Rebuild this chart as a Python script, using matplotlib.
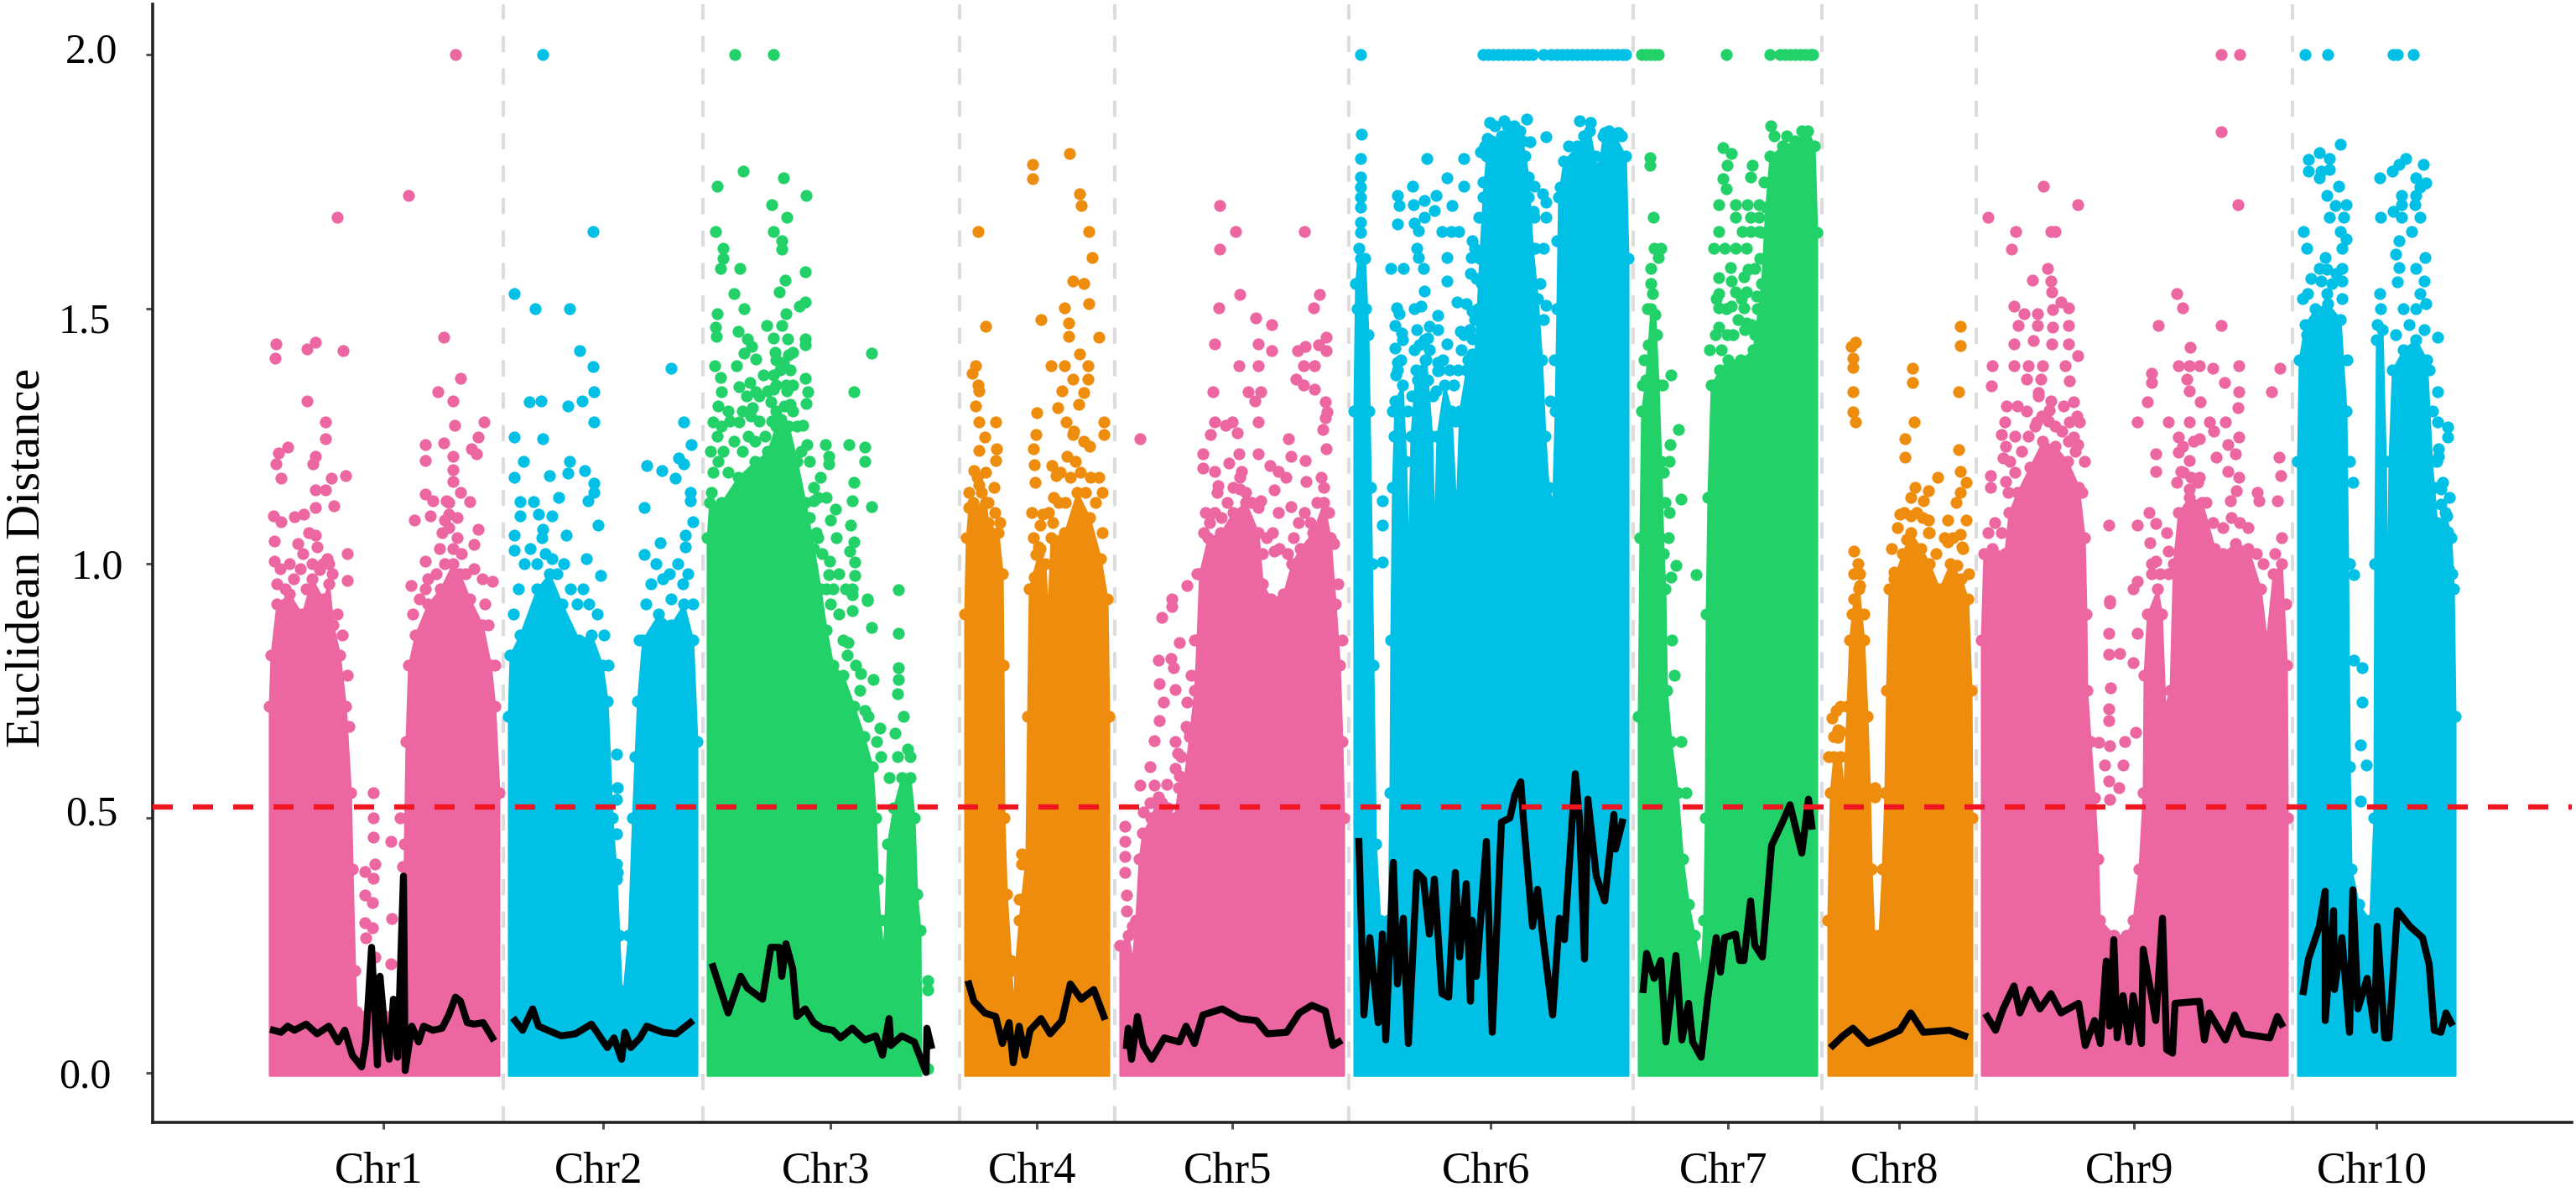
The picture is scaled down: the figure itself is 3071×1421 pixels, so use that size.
import matplotlib
matplotlib.use("Agg")
import matplotlib.pyplot as plt
from matplotlib.transforms import ScaledTranslation

plt.rcParams['font.family'] = ['Liberation Serif', 'DejaVu Serif']

pink = '#EC66A1'
blue = '#00C0E6'
green = '#22D168'
orange = '#EE8C0E'

chrom_names = ['Chr1', 'Chr2', 'Chr3', 'Chr4', 'Chr5', 'Chr6', 'Chr7', 'Chr8', 'Chr9', 'Chr10']
chrom_colors = [pink, blue, green, orange, pink, blue, green, orange, pink, blue]
chrom_ticks = [457, 719, 990, 1236, 1469, 1777, 2060, 2264, 2544, 2833]
chrom_borders = [600, 838, 1144, 1329, 1608, 1947, 2172, 2356, 2733]
threshold = 0.522

# top of the dense part of each chromosome (cumulative position, distance)
chr1_top = [(321,.72),(323,.82),(330,.92),(345,.94),(360,.90),(372,.97),(385,.93),(392,.96),(397,.88),(405,.82),(412,.72),(418,.55),(420,.40),(423,.2),(425,.12),(480,.12),(482,.45),(484,.65),(487,.8),(495,.86),(510,.92),(525,.95),(540,1.0),(548,.98),(560,.93),(575,.88),(585,.80),(590,.72),(595,.55),(595,0)]
chr2_top = [(606,.7),(608,.82),(620,.86),(640,.95),(655,.98),(670,.92),(690,.85),(705,.86),(718,.8),(724,.73),(730,.5),(735,.38),(738,.27),(741,.15),(743,.16),(749,.27),(754,.5),(757,.62),(760,.73),(766,.85),(785,.9),(800,.88),(815,.92),(826,.85),(831,.65),(831,0)]
chr3_top = [(843,1.05),(846,1.12),(860,1.12),(880,1.17),(900,1.2),(915,1.22),(925,1.27),(940,1.27),(950,1.2),(960,1.12),(970,1.03),(978,.95),(985,.87),(993,.8),(1005,.78),(1018,.72),(1030,.66),(1040,.6),(1044,.5),(1046,.38),(1049,.3),(1053,.24),(1055,.3),(1058,.45),(1065,.52),(1075,.58),(1085,.58),(1090,.5),(1093,.35),(1097,.28),(1098,0)]
chr4_top = [(1150,.9),(1152,1.05),(1155,1.11),(1175,1.12),(1178,1.08),(1190,1.06),(1195,.98),(1196,.8),(1197,.5),(1200,.35),(1205,.22),(1208,.12),(1210,.2),(1215,.3),(1223,.42),(1225,.7),(1227,.95),(1238,1.02),(1246,1.0),(1249,.9),(1253,1.05),(1269,1.06),(1284,1.14),(1299,1.09),(1312,1.01),(1320,.93),(1322,.7),(1322,0)]
chr5_top = [(1335,.25),(1345,.27),(1350,.22),(1354,.3),(1358,.42),(1362,.47),(1372,.5),(1378,.53),(1385,.53),(1392,.52),(1400,.5),(1405,.56),(1412,.58),(1418,.66),(1424,.75),(1427,.85),(1430,.98),(1440,1.05),(1455,1.06),(1470,1.1),(1485,1.12),(1500,1.06),(1505,.96),(1515,.93),(1530,.94),(1540,1.0),(1550,1.03),(1565,1.06),(1578,1.12),(1586,1.05),(1592,.92),(1597,.8),(1600,.65),(1602,.5),(1602,0)]
chr6_top = [(1614,1.3),(1616,1.55),(1620,1.62),(1627,1.6),(1631,1.45),(1634,1.15),(1637,.8),(1640,.45),(1645,.3),(1650,.28),(1655,.3),(1657,.55),(1658,.85),(1660,1.15),(1663,1.32),(1672,1.35),(1676,1.2),(1679,1.0),(1682,1.25),(1688,1.38),(1700,1.4),(1707,1.25),(1710,1.05),(1713,1.25),(1722,1.35),(1730,1.3),(1736,1.1),(1740,1.3),(1748,1.38),(1758,1.4),(1764,1.6),(1768,1.72),(1772,1.8),(1778,1.83),(1790,1.84),(1805,1.86),(1815,1.83),(1822,1.76),(1827,1.62),(1833,1.52),(1838,1.4),(1842,1.25),(1846,1.15),(1851,1.12),(1854,1.3),(1856,1.5),(1858,1.72),(1864,1.79),(1880,1.82),(1895,1.85),(1905,1.76),(1911,1.84),(1925,1.84),(1938,1.8),(1941,1.6),(1941,0)]
chr7_top = [(1953,.7),(1955,1.05),(1957,1.3),(1962,1.36),(1968,1.5),(1973,1.49),(1977,1.35),(1980,1.2),(1983,1.02),(1985,.95),(1987,.75),(1992,.65),(2000,.55),(2006,.42),(2013,.33),(2020,.27),(2028,.2),(2031,.3),(2033,.5),(2034,.9),(2036,1.13),(2040,1.35),(2050,1.38),(2060,1.4),(2075,1.4),(2090,1.42),(2100,1.55),(2105,1.7),(2110,1.8),(2125,1.82),(2140,1.83),(2155,1.85),(2163,1.82),(2166,1.65),(2166,0)]
chr8_top = [(2179,.3),(2182,.55),(2186,.62),(2194,.62),(2198,.55),(2202,.72),(2205,.85),(2210,.93),(2216,.95),(2222,.85),(2226,.7),(2229,.55),(2231,.4),(2234,.27),(2240,.27),(2244,.4),(2247,.55),(2249,.75),(2252,.95),(2258,.97),(2268,1.02),(2278,1.06),(2290,1.03),(2300,1.0),(2312,.95),(2325,1.0),(2338,.97),(2346,.93),(2350,.75),(2351,.5),(2351,0)]
chr9_top = [(2362,.85),(2365,1.02),(2375,1.03),(2390,1.02),(2395,1.1),(2405,1.14),(2420,1.19),(2435,1.24),(2450,1.23),(2465,1.2),(2478,1.15),(2485,1.05),(2487,.9),(2488,.75),(2492,.65),(2497,.54),(2501,.42),(2503,.3),(2520,.27),(2535,.27),(2543,.3),(2550,.4),(2555,.55),(2556,.78),(2560,.9),(2572,.95),(2577,.9),(2581,.72),(2587,.75),(2591,1.0),(2597,1.1),(2610,1.13),(2625,1.12),(2640,1.03),(2650,1.02),(2665,1.04),(2680,1.03),(2695,.95),(2702,.85),(2710,.98),(2720,1.0),(2726,.8),(2727,.5),(2727,0)]
chr10_top = [(2739,1.2),(2741,1.4),(2748,1.47),(2760,1.5),(2775,1.51),(2790,1.48),(2797,1.3),(2799,1.0),(2801,.6),(2803,.4),(2812,.33),(2825,.3),(2830,.5),(2831,1.0),(2833,1.44),(2840,1.46),(2844,1.2),(2846,.9),(2848,1.2),(2852,1.38),(2865,1.42),(2880,1.44),(2893,1.4),(2899,1.2),(2905,1.08),(2915,1.1),(2922,1.05),(2925,.95),(2927,.7),(2927,0)]

# single points above the dense part
chr1_dots = [(543,2.0),(487,1.724),(402,1.68),(329,1.432),(328,1.403),(366,1.421),(376,1.434),(409,1.419),(529,1.444),(549,1.364),(522,1.337),(540,1.319),(366,1.319),(388,1.279),(542,1.272),(577,1.279),(388,1.245),(343,1.228),(332,1.218),(329,1.196),(335,1.168),(376,1.21),(373,1.196),(412,1.172),(395,1.168),(376,1.145),(388,1.145),(398,1.114),(376,1.11),(362,1.097),(351,1.092),(335,1.082),(326,1.094),(327,1.044),(376,1.056),(378,1.033),(361,1.02),(414,1.02),(327,1.004),(414,.966),(392,.999),(381,.988),(507,1.234),(507,1.202),(529,1.237),(570,1.249),(562,1.226),(568,1.215),(540,1.211),(540,1.184),(540,1.162),(507,1.137),(516,1.124),(532,1.124),(549,1.139),(560,1.122),(494,1.085),(513,1.094),(535,1.097),(570,1.067),(565,1.037),(507,1.004),(524,1.029),(587,.965),(490,.957),(507,.95),(445,.549),(445,.501),(445,.463),(466,.454),(477,.5),(480,.405),(447,.409),(435,.395),(445,.381),(435,.348),(444,.333),(467,.303),(435,.295),(444,.284),(436,.265),(466,.213),(447,.227)]
chr2_dots = [(647,2.0),(707,1.652),(613,1.53),(638,1.501),(679,1.501),(691,1.419),(707,1.387),(800,1.384),(708,1.337),(694,1.319),(677,1.309),(631,1.317),(645,1.319),(708,1.279),(815,1.279),(613,1.249),(647,1.245),(824,1.234),(624,1.2),(679,1.2),(697,1.183),(771,1.192),(789,1.183),(805,1.168),(809,1.207),(815,1.196),(613,1.169),(655,1.173),(677,1.177),(708,1.158),(708,1.139),(823,1.139),(823,1.124),(666,1.13),(620,1.122),(636,1.122),(701,1.124),(768,1.11),(620,1.094),(642,1.097),(658,1.094),(826,1.082),(713,1.075),(787,1.041),(768,1.018),(613,1.056),(613,1.026),(647,1.067),(675,1.056),(699,1.01),(817,1.056),(817,1.033),(798,.98),(716,.976),(735,.626),(736,.56),(735,.536),(735,.469),(735,.409),(736,.393)]
chr3_dots = [(876,2.0),(922,2.0),(886,1.771),(934,1.758),(855,1.742),(961,1.724),(920,1.705),(938,1.68),(853,1.652),(922,1.652),(932,1.635),(932,1.617),(862,1.62),(862,1.6),(859,1.58),(882,1.58),(960,1.574),(936,1.557),(875,1.53),(929,1.533),(960,1.514),(953,1.505),(887,1.5),(855,1.491),(937,1.491),(853,1.465),(914,1.468),(932,1.468),(880,1.457),(854,1.446),(922,1.443),(939,1.442),(960,1.442),(891,1.442),(896,1.427),(960,1.43),(887,1.413),(901,1.402),(924,1.415),(1039,1.413),(945,1.415),(852,1.389),(878,1.389),(934,1.396),(942,1.381),(859,1.366),(960,1.364),(922,1.37),(894,1.355),(860,1.337),(881,1.347),(901,1.337),(963,1.337),(1018,1.337),(922,1.343),(937,1.351),(856,1.309),(897,1.307),(961,1.315),(942,1.313),(919,1.317),(850,1.279),(881,1.279),(957,1.272),(931,1.283),(962,1.234),(984,1.234),(1012,1.234),(1031,1.228),(1031,1.201),(988,1.21),(988,1.196),(1018,1.159),(978,1.169),(1016,1.124),(1039,1.112),(996,1.107),(990,1.086),(1014,1.076),(970,1.124),(973,1.06),(1018,1.042),(1013,1.024),(989,1.004),(1019,1.003),(988,.979),(1019,.976),(1071,.948),(1016,.95),(1034,.931),(993,.951),(1071,.863),(1016,.939),(1034,.927),(1016,.908),(1071,.795),(1071,.772),(1070,.745),(1026,.783),(1041,.772),(1031,.711),(1049,.677),(1077,.7),(1067,.666),(1082,.636),(1011,.844),(1039,.874),(1106,.181),(1106,.163),(1106,.007)]
chr4_dots = [(1275,1.805),(1231,1.784),(1231,1.757),(1287,1.726),(1289,1.703),(1166,1.652),(1298,1.652),(1302,1.601),(1279,1.555),(1292,1.55),(1298,1.511),(1269,1.502),(1241,1.48),(1175,1.466),(1274,1.472),(1274,1.446),(1310,1.444),(1287,1.412),(1163,1.389),(1253,1.389),(1269,1.389),(1297,1.389),(1159,1.374),(1166,1.351),(1167,1.34),(1279,1.362),(1297,1.362),(1266,1.34),(1292,1.336),(1261,1.306),(1286,1.313),(1163,1.309),(1236,1.296),(1167,1.279),(1187,1.279),(1316,1.279),(1316,1.253),(1271,1.279),(1235,1.253),(1174,1.249),(1232,1.226),(1188,1.226),(1167,1.222),(1279,1.253),(1299,1.23),(1233,1.194),(1254,1.192),(1187,1.203),(1161,1.183),(1259,1.173),(1234,1.159),(1310,1.169),(1167,1.154),(1314,1.139),(1230,1.101),(1243,1.097),(1240,1.075),(1238,1.033),(1233,.973),(1235,1.018),(1218,.43),(1218,.41),(1215,.34)]
chr5_dots = [(1454,1.703),(1473,1.652),(1555,1.652),(1454,1.618),(1478,1.529),(1573,1.529),(1453,1.502),(1566,1.502),(1497,1.482),(1516,1.47),(1581,1.444),(1448,1.432),(1500,1.432),(1556,1.427),(1547,1.419),(1572,1.43),(1581,1.419),(1516,1.418),(1477,1.389),(1500,1.389),(1554,1.389),(1567,1.389),(1545,1.362),(1554,1.351),(1567,1.343),(1446,1.337),(1488,1.337),(1503,1.337),(1496,1.319),(1580,1.317),(1582,1.298),(1448,1.279),(1469,1.279),(1461,1.272),(1500,1.279),(1580,1.287),(1577,1.264),(1359,1.245),(1443,1.253),(1475,1.256),(1536,1.245),(1477,1.215),(1500,1.215),(1539,1.211),(1581,1.226),(1434,1.215),(1556,1.203),(1465,1.197),(1434,1.188),(1448,1.181),(1514,1.192),(1524,1.181),(1480,1.181),(1533,1.169),(1575,1.169),(1452,1.153),(1519,1.145),(1478,1.147),(1503,1.124),(1557,1.162),(1524,1.101),(1539,1.112),(1519,1.025),(1415,.957),(1427,.98),(1397,.931),(1397,.916),(1385,.895),(1406,.844),(1396,.814),(1381,.81),(1399,.795),(1382,.764),(1401,.753),(1387,.728),(1415,.728),(1382,.691),(1417,.674),(1376,.652),(1401,.651),(1404,.628),(1371,.6),(1401,.598),(1406,.583),(1359,.564),(1376,.564),(1391,.567),(1381,.541),(1363,.511),(1371,.53),(1341,.484),(1341,.454),(1341,.424),(1341,.393),(1343,.348),(1343,.318),(1350,.287)]
chr6_dots = [(1622,2.0),(1768,2.0),(1774,2.0),(1780,2.0),(1786,2.0),(1792,2.0),(1798,2.0),(1804,2.0),(1810,2.0),(1816,2.0),(1822,2.0),(1827,2.0),(1840,2.0),(1849,2.0),(1856,2.0),(1862,2.0),(1868,2.0),(1874,2.0),(1880,2.0),(1886,2.0),(1892,2.0),(1898,2.0),(1904,2.0),(1910,2.0),(1916,2.0),(1922,2.0),(1928,2.0),(1934,2.0),(1938,2.0),(1623,1.843),(1622,1.795),(1622,1.76),(1622,1.74),(1622,1.72),(1622,1.7),(1622,1.67),(1622,1.65),(1701,1.795),(1745,1.795),(1725,1.758),(1684,1.742),(1745,1.742),(1666,1.724),(1712,1.724),(1698,1.714),(1668,1.703),(1685,1.705),(1731,1.703),(1710,1.693),(1698,1.68),(1686,1.669),(1666,1.667),(1691,1.654),(1719,1.652),(1730,1.652),(1739,1.652),(1689,1.62),(1691,1.601),(1725,1.601),(1658,1.58),(1673,1.58),(1697,1.58),(1725,1.555),(1753,1.57),(1698,1.536),(1665,1.502),(1694,1.506),(1686,1.5),(1737,1.514),(1748,1.51),(1755,1.495),(1668,1.491),(1714,1.487),(1663,1.468),(1704,1.466),(1689,1.459),(1714,1.459),(1671,1.453),(1702,1.443),(1741,1.457),(1725,1.432),(1755,1.442),(1663,1.423),(1755,1.412),(1714,1.396),(1666,1.396),(1699,1.4),(1666,1.381),(1714,1.378),(1776,1.866),(1793,1.87),(1820,1.873),(1883,1.87),(1896,1.866),(1843,1.838),(1824,1.829),(1773,1.835),(1765,1.809),(1929,1.847),(1913,1.847),(1829,1.742),(1839,1.726),(1843,1.71),(1828,1.692),(1829,1.68),(1843,1.68),(1856,1.635),(1840,1.62),(1763,1.68),(1755,1.635),(1754,1.601),(1843,1.508),(1648,1.124),(1648,1.075),(1648,1.003)]
chr7_dots = [(1957,2.0),(1962,2.0),(1967,2.0),(1972,2.0),(1977,2.0),(2058,2.0),(2110,2.0),(2122,2.0),(2128,2.0),(2134,2.0),(2140,2.0),(2146,2.0),(2152,2.0),(2158,2.0),(2161,2.0),(1967,1.798),(1967,1.782),(1971,1.68),(1972,1.62),(1980,1.62),(1977,1.601),(1968,1.58),(1992,1.371),(1982,1.351),(2001,1.264),(1991,1.234),(1990,1.201),(2004,1.126),(1990,1.101),(1998,.997),(2022,.979),(1992,.973),(2111,1.86),(2054,1.817),(2064,1.805),(2059,1.782),(2089,1.782),(2087,1.76),(2054,1.756),(2058,1.737),(2049,1.705),(2069,1.705),(2083,1.705),(2097,1.705),(2069,1.68),(2087,1.68),(2097,1.68),(2049,1.652),(2077,1.652),(2087,1.652),(2097,1.652),(2043,1.62),(2056,1.62),(2069,1.62),(2082,1.62),(2063,1.582),(2084,1.578),(2049,1.561),(2079,1.563),(2064,1.555),(2049,1.531),(2069,1.533),(2082,1.533),(2094,1.525),(2049,1.502),(2064,1.506),(2079,1.502),(2049,1.465),(2082,1.472),(2059,1.449),(2092,1.449)]
chr8_dots = [(2212,1.434),(2207,1.427),(2209,1.404),(2209,1.385),(2209,1.337),(2209,1.298),(2212,1.279),(2337,1.466),(2337,1.428),(2335,1.337),(2280,1.384),(2280,1.355),(2282,1.279),(2271,1.245),(2271,1.209),(2335,1.224),(2310,1.169),(2337,1.181),(2344,1.16),(2283,1.15),(2299,1.143),(2337,1.139),(2332,1.12),(2293,1.124),(2265,1.097),(2278,1.094),(2322,1.086),(2344,1.086),(2299,1.086),(2337,1.057),(2339,1.033),(2322,1.042),(2273,1.048),(2299,1.06),(2210,1.025),(2333,.997),(2217,.98),(2258,.984),(2217,.957),(2278,1.018),(2189,.711),(2194,.719),(2184,.696),(2191,.674),(2191,.658),(2235,.56),(2235,.541)]
chr9_dots = [(2648,2.0),(2670,2.0),(2648,1.849),(2436,1.742),(2477,1.705),(2668,1.705),(2370,1.68),(2403,1.652),(2445,1.652),(2450,1.652),(2398,1.618),(2441,1.58),(2423,1.557),(2445,1.555),(2446,1.533),(2595,1.53),(2401,1.505),(2457,1.514),(2466,1.502),(2602,1.502),(2413,1.491),(2429,1.491),(2447,1.499),(2406,1.468),(2429,1.468),(2447,1.465),(2466,1.468),(2573,1.468),(2648,1.468),(2401,1.432),(2424,1.438),(2446,1.432),(2466,1.432),(2611,1.425),(2477,1.408),(2375,1.389),(2401,1.389),(2418,1.389),(2435,1.389),(2462,1.389),(2597,1.389),(2610,1.389),(2622,1.389),(2638,1.384),(2669,1.389),(2718,1.384),(2374,1.349),(2565,1.374),(2416,1.362),(2433,1.362),(2467,1.359),(2565,1.355),(2607,1.362),(2652,1.355),(2430,1.336),(2610,1.34),(2708,1.337),(2669,1.337),(2560,1.318),(2623,1.318),(2472,1.317),(2392,1.309),(2668,1.306),(2443,1.302),(2390,1.279),(2548,1.279),(2585,1.279),(2610,1.279),(2634,1.279),(2653,1.279),(2428,1.279),(2467,1.279),(2479,1.279),(2386,1.253),(2472,1.249),(2597,1.249),(2669,1.249),(2622,1.245),(2639,1.26),(2391,1.23),(2656,1.234),(2477,1.234),(2570,1.215),(2597,1.219),(2642,1.209),(2665,1.215),(2717,1.209),(2388,1.207),(2610,1.203),(2570,1.181),(2600,1.181),(2656,1.181),(2622,1.169),(2669,1.169),(2373,1.173),(2719,1.173),(2373,1.15),(2391,1.162),(2691,1.139),(2666,1.143),(2610,1.147),(2693,1.124),(2659,1.124),(2715,1.124),(2562,1.101),(2514,1.075),(2548,1.075),(2570,1.078),(2583,1.06),(2563,1.041),(2585,1.025),(2570,1.004),(2548,.965),(2565,.98),(2585,.98),(2543,.951),(2515,.927),(2515,.922),(2514,.863),(2514,.821),(2527,.823),(2548,.863),(2543,.806),(2516,.755),(2514,.715),(2514,.691),(2546,.668),(2533,.651),(2502,.649),(2515,.642),(2509,.604),(2531,.604),(2514,.572),(2515,.537),(2526,.56)]
chr10_dots = [(2748,2.0),(2775,2.0),(2853,2.0),(2858,2.0),(2877,2.0),(2790,1.823),(2765,1.807),(2752,1.794),(2777,1.795),(2868,1.796),(2889,1.784),(2860,1.784),(2852,1.771),(2752,1.771),(2767,1.771),(2777,1.775),(2837,1.758),(2880,1.758),(2765,1.758),(2892,1.748),(2788,1.742),(2885,1.739),(2774,1.724),(2863,1.724),(2880,1.724),(2784,1.703),(2797,1.705),(2863,1.705),(2879,1.705),(2853,1.692),(2777,1.68),(2794,1.68),(2838,1.68),(2863,1.68),(2885,1.68),(2746,1.652),(2790,1.652),(2875,1.652),(2797,1.637),(2860,1.635),(2792,1.62),(2750,1.62),(2856,1.608),(2891,1.601),(2772,1.601),(2860,1.582),(2880,1.58),(2774,1.578),(2792,1.58),(2858,1.553),(2890,1.555),(2767,1.555),(2792,1.555),(2751,1.53),(2837,1.53),(2774,1.53),(2885,1.53),(2892,1.51),(2906,1.444),(2906,1.337),(2906,1.279),(2918,1.268),(2918,1.249),(2907,1.226),(2907,1.211),(2805,1.159),(2910,1.147),(2917,1.094),(2918,1.063),(2912,1.022),(2919,.989),(2806,.979),(2918,.95),(2910,1.116),(2816,.795),(2816,.727),(2814,.643),(2821,.604),(2814,.534),(2806,.81)]

# points in the crowded band just above the dense part
chr1_crowd = [(330,.96),(340,.95),(350,.97),(358,.99),(365,.95),(372,1.0),(385,1.0),(390,1.01),(396,.98),(334,.99),(345,1.0),(355,1.04),(368,1.06),(402,.9),(408,.86),(414,.78),(416,.68),(527,1.06),(535,1.07),(545,1.05),(530,1.0),(540,1.03),(550,1.02),(555,.98),(565,.99),(575,.97),(510,.97),(520,.98),(535,1.12),(545,1.09),(530,1.085),(500,.93),(492,.9),(582,.88),(590,.8),(578,.92)]
chr2_crowd = [(612,.9),(618,.95),(625,1.0),(632,1.03),(640,1.0),(646,1.05),(650,1.02),(658,1.01),(664,.98),(672,1.0),(680,.95),(688,.92),(695,.95),(702,.92),(712,.9),(720,.86),(725,.8),(770,.92),(776,.96),(782,1.0),(790,.97),(800,.93),(808,1.0),(814,.96),(820,.98),(826,.92),(762,.85)]
chr3_crowd = [(850,1.18),(856,1.2),(862,1.22),(868,1.18),(875,1.24),(885,1.22),(892,1.25),(900,1.24),(905,1.28),(912,1.25),(920,1.28),(925,1.3),(935,1.31),(945,1.3),(950,1.27),(955,1.22),(965,1.2),(970,1.15),(975,1.13),(985,1.13),(997,1.05),(925,1.35),(930,1.38),(938,1.34),(945,1.35),(915,1.34),(905,1.33),(890,1.33),(885,1.3),(870,1.28),(860,1.27),(855,1.25),(895,1.29),(910,1.37),(925,1.4),(940,1.41),(868,1.3),(848,1.14),(847,1.22),(985,.95),(990,.92),(1000,.9),(1005,.85),(1010,.82),(1020,.8),(1025,.75),(1035,.7),(1045,.65),(1050,.62),(980,1.02),(975,1.05),(965,1.09),(1000,.98),(1008,.95),(1060,.58),(1070,.62),(1085,.62)]
chr4_crowd = [(1155,1.14),(1160,1.12),(1170,1.14),(1178,1.12),(1186,1.1),(1192,1.08),(1185,1.15),(1165,1.17),(1175,1.18),(1232,1.05),(1240,1.03),(1250,1.1),(1256,1.13),(1262,1.12),(1270,1.12),(1276,1.17),(1282,1.2),(1288,1.18),(1294,1.14),(1300,1.17),(1306,1.12),(1314,1.06),(1264,1.18),(1272,1.21),(1292,1.24),(1280,1.26),(1255,1.08)]
chr5_crowd = [(1435,1.06),(1442,1.08),(1448,1.1),(1456,1.09),(1463,1.12),(1470,1.15),(1478,1.17),(1485,1.14),(1492,1.12),(1500,1.11),(1510,1.05),(1505,1.02),(1517,1.06),(1525,1.03),(1535,1.02),(1542,1.05),(1548,1.08),(1555,1.1),(1562,1.08),(1570,1.12),(1578,1.15),(1584,1.1),(1590,1.04),(1595,.96),(1600,.85),(1437,1.1),(1451,1.14),(1408,.62),(1414,.68),(1420,.78),(1424,.85)]
chr6_crowd = [(1664,1.37),(1670,1.4),(1672,1.44),(1660,1.3),(1662,1.25),(1678,1.3),(1683,1.33),(1686,1.42),(1692,1.43),(1698,1.44),(1704,1.42),(1702,1.36),(1690,1.36),(1696,1.32),(1708,1.33),(1712,1.34),(1716,1.38),(1720,1.4),(1728,1.38),(1733,1.35),(1738,1.38),(1742,1.42),(1745,1.45),(1752,1.46),(1758,1.48),(1762,1.5),(1766,1.55),(1750,1.4),(1735,1.28),(1725,1.3),(1760,1.56),(1758,1.62),(1768,1.75),(1770,1.82),(1782,1.86),(1797,1.86),(1812,1.85),(1818,1.8),(1822,1.72),(1830,1.62),(1836,1.55),(1840,1.48),(1848,1.32),(1853,1.4),(1860,1.74),(1870,1.82),(1888,1.84),(1902,1.8),(1908,1.78),(1918,1.85),(1933,1.84),(1618,1.5),(1622,1.6),(1628,1.5),(1632,1.3),(1636,1.0)]
chr7_crowd = [(2038,1.42),(2045,1.45),(2052,1.42),(2058,1.5),(2066,1.45),(2072,1.48),(2080,1.46),(2088,1.47),(2095,1.5),(2098,1.6),(2100,1.65),(2103,1.75),(2046,1.52),(2044,1.35),(2076,1.52),(2092,1.58),(2115,1.84),(2130,1.84),(2148,1.85),(1960,1.4),(1965,1.43),(1958,1.35),(1970,1.53),(1964,1.5),(1975,1.45),(1968,1.55),(1985,1.12),(1983,1.18),(1989,1.05),(1993,.85),(1996,.78),(2004,.65),(2010,.55)]
chr8_crowd = [(2210,.98),(2215,1.0),(2255,1.03),(2262,1.07),(2270,1.1),(2278,1.13),(2285,1.1),(2292,1.09),(2300,1.06),(2308,1.02),(2318,1.05),(2328,1.05),(2340,1.03),(2347,.98),(2265,.98),(2208,.9),(2222,.9),(2186,.66),(2194,.67),(2180,.62)]
chr9_crowd = [(2370,1.06),(2378,1.08),(2386,1.06),(2394,1.14),(2402,1.18),(2410,1.22),(2418,1.25),(2426,1.27),(2434,1.29),(2442,1.28),(2450,1.27),(2458,1.26),(2466,1.24),(2474,1.22),(2482,1.14),(2485,1.2),(2416,1.3),(2430,1.33),(2445,1.32),(2460,1.31),(2476,1.29),(2402,1.25),(2396,1.2),(2405,1.31),(2595,1.16),(2603,1.18),(2612,1.17),(2620,1.16),(2630,1.12),(2638,1.08),(2650,1.07),(2660,1.09),(2670,1.08),(2680,1.07),(2690,1.02),(2698,1.0),(2712,1.02),(2720,1.05),(2725,.92),(2602,1.23),(2615,1.24),(2565,1.0),(2575,.98)]
chr10_crowd = [(2745,1.52),(2755,1.56),(2765,1.58),(2780,1.55),(2785,1.57),(2792,1.52),(2798,1.4),(2750,1.45),(2801,1.2),(2801,1.0),(2834,1.47),(2838,1.5),(2856,1.45),(2865,1.5),(2872,1.47),(2880,1.5),(2890,1.46),(2896,1.38),(2900,1.3),(2902,1.15),(2912,1.16),(2905,1.2),(2914,1.03),(2920,1.13),(2923,.98)]

# sliding window average
chr1_line = [(326,.083),(335,.079),(343,.091),(351,.083),(365,.095),(378,.076),(392,.091),(403,.06),(411,.083),(420,.034),(431,.011),(436,.06),(443,.246),(450,.015),(453,.189),(458,.098),(464,.026),(469,.144),(474,.03),(481,.386),(483,.004),(491,.091),(499,.06),(505,.091),(516,.083),(527,.087),(535,.113),(543,.148),(549,.14),(557,.098),(565,.095),(576,.098),(587,.068)]
chr2_line = [(614,.102),(623,.083),(635,.125),(642,.091),(653,.083),(669,.072),(686,.076),(705,.095),(713,.076),(724,.049),(732,.068),(741,.026),(745,.079),(752,.049),(763,.068),(771,.091),(790,.079),(806,.076),(823,.098)]
chr3_line = [(850,.208),(868,.117),(883,.189),(891,.166),(909,.144),(919,.246),(929,.246),(932,.189),(937,.253),(945,.204),(950,.11),(960,.125),(970,.098),(980,.087),(993,.083),(1002,.068),(1016,.087),(1031,.064),(1044,.072),(1052,.034),(1060,.106),(1062,.053),(1075,.072),(1090,.06),(1104,.0),(1105,.087),(1110,.053)]
chr4_line = [(1155,.174),(1161,.14),(1174,.117),(1187,.11),(1195,.057),(1203,.098),(1208,.019),(1215,.091),(1222,.034),(1228,.083),(1241,.106),(1252,.076),(1266,.102),(1276,.174),(1289,.144),(1304,.163),(1316,.11)]
chr5_line = [(1343,.053),(1345,.087),(1349,.026),(1356,.11),(1363,.053),(1373,.026),(1388,.068),(1406,.06),(1414,.091),(1424,.057),(1434,.113),(1457,.125),(1478,.106),(1498,.102),(1511,.076),(1534,.079),(1549,.117),(1564,.132),(1580,.121),(1589,.053),(1596,.06)]
chr6_line = [(1620,.454),(1626,.113),(1633,.265),(1643,.098),(1648,.272),(1652,.064),(1661,.413),(1666,.174),(1673,.303),(1679,.057),(1689,.393),(1697,.38),(1704,.272),(1710,.38),(1719,.155),(1727,.148),(1735,.393),(1740,.227),(1748,.371),(1753,.14),(1755,.299),(1760,.189),(1772,.454),(1779,.079),(1790,.492),(1800,.5),(1806,.545),(1813,.571),(1816,.5),(1827,.287),(1833,.36),(1839,.272),(1851,.113),(1859,.303),(1865,.261),(1878,.587),(1883,.499),(1889,.223),(1893,.537),(1903,.386),(1913,.337),(1924,.507),(1926,.439),(1934,.492)]
chr7_line = [(1959,.163),(1963,.234),(1972,.185),(1980,.22),(1986,.06),(1998,.23),(2005,.064),(2013,.136),(2018,.06),(2028,.03),(2036,.147),(2046,.265),(2051,.197),(2056,.265),(2069,.272),(2074,.22),(2079,.22),(2087,.337),(2092,.25),(2101,.227),(2112,.446),(2125,.492),(2134,.526),(2148,.431),(2156,.537),(2160,.484)]
chr8_line = [(2185,.053),(2197,.072),(2209,.087),(2227,.057),(2245,.068),(2265,.083),(2278,.117),(2293,.079),(2324,.083),(2342,.072)]
chr9_line = [(2369,.11),(2379,.083),(2388,.125),(2401,.17),(2408,.117),(2420,.163),(2432,.125),(2445,.155),(2457,.117),(2478,.136),(2486,.053),(2497,.102),(2504,.057),(2511,.219),(2515,.091),(2520,.261),(2524,.068),(2531,.151),(2538,.06),(2543,.151),(2553,.057),(2555,.242),(2565,.151),(2570,.102),(2578,.303),(2583,.045),(2590,.038),(2593,.136),(2622,.14),(2628,.064),(2634,.117),(2653,.064),(2664,.113),(2674,.076),(2706,.068),(2715,.11),(2720,.095)]
chr10_line = [(2746,.159),(2752,.223),(2765,.287),(2772,.356),(2772,.102),(2782,.318),(2783,.163),(2792,.265),(2801,.079),(2805,.359),(2811,.125),(2822,.185),(2831,.083),(2834,.287),(2843,.068),(2848,.068),(2858,.318),(2873,.287),(2888,.265),(2896,.212),(2902,.083),(2910,.079),(2916,.117),(2922,.098)]

tops = [chr1_top, chr2_top, chr3_top, chr4_top, chr5_top, chr6_top, chr7_top, chr8_top, chr9_top, chr10_top]
dots = [chr1_dots, chr2_dots, chr3_dots, chr4_dots, chr5_dots, chr6_dots, chr7_dots, chr8_dots, chr9_dots, chr10_dots]
crowd = [chr1_crowd, chr2_crowd, chr3_crowd, chr4_crowd, chr5_crowd, chr6_crowd, chr7_crowd, chr8_crowd, chr9_crowd, chr10_crowd]
lines = [chr1_line, chr2_line, chr3_line, chr4_line, chr5_line, chr6_line, chr7_line, chr8_line, chr9_line, chr10_line]

fig = plt.figure(figsize=(30.71, 14.21), dpi=100)
ax = fig.add_axes([182/3071, 1-1338/1421, (3066-182)/3071, (1338-5)/1421])

for b in chrom_borders:
    ax.axvline(b, color='#dcdcdc', lw=2.9, dashes=(4.8, 4.8), zorder=1)

for top, pts, extra, avg, col in zip(tops, dots, crowd, lines, chrom_colors):
    tx, ty = zip(*top)
    ax.fill_between(tx, -0.006, ty, color=col, lw=1.5, joinstyle='round', zorder=2)
    # round off the outline with dots of the same size as the rest
    ax.scatter(tx[:-1], ty[:-1], s=105, color=col, linewidths=0, zorder=2)
    px, py = zip(*(pts + extra))
    ax.scatter(px, py, s=105, color=col, linewidths=0, zorder=2)
    lx, ly = zip(*avg)
    ax.plot(lx, ly, color='black', lw=6, solid_joinstyle='round', zorder=3)

ax.axhline(threshold, color='#F01520', lw=4.5, dashes=(3.84, 3.84), zorder=4)

ax.set_xlim(182, 3066)
ax.set_ylim(-0.098, 2.099)
ax.set_xticks(chrom_ticks)
ax.set_xticklabels(chrom_names)
ax.set_yticks([0, 0.5, 1.0, 1.5, 2.0])
ax.set_yticklabels(['0.0', '0.5', '1.0', '1.5', '2.0'])
ax.spines['top'].set_visible(False)
ax.spines['right'].set_visible(False)
ax.spines['left'].set_linewidth(2.6)
ax.spines['bottom'].set_linewidth(2.6)
ax.spines['left'].set_color('#222222')
ax.spines['bottom'].set_color('#222222')
ax.tick_params(axis='both', length=6, width=2.2, color='#555555')
ax.tick_params(axis='x', labelsize=38, pad=19)
ax.tick_params(axis='y', labelsize=36, pad=24)

# the labels in the source are not quite aligned (pixels at 100 dpi)
ylabel_shift = [(-8, 0), (0, 9), (7, 0), (-8, -10), (0, 8)]
for lab, (dx, dy) in zip(ax.get_yticklabels(), ylabel_shift):
    lab.set_transform(lab.get_transform() + ScaledTranslation(dx/100, dy/100, fig.dpi_scale_trans))
for lab in ax.get_xticklabels():
    lab.set_transform(lab.get_transform() + ScaledTranslation(-5/100, 0, fig.dpi_scale_trans))

fig.text(33/3071, 1-665/1421, 'Euclidean Distance', rotation=90, fontsize=42, va='center', ha='center')

fig.savefig('out.png', dpi=100)
